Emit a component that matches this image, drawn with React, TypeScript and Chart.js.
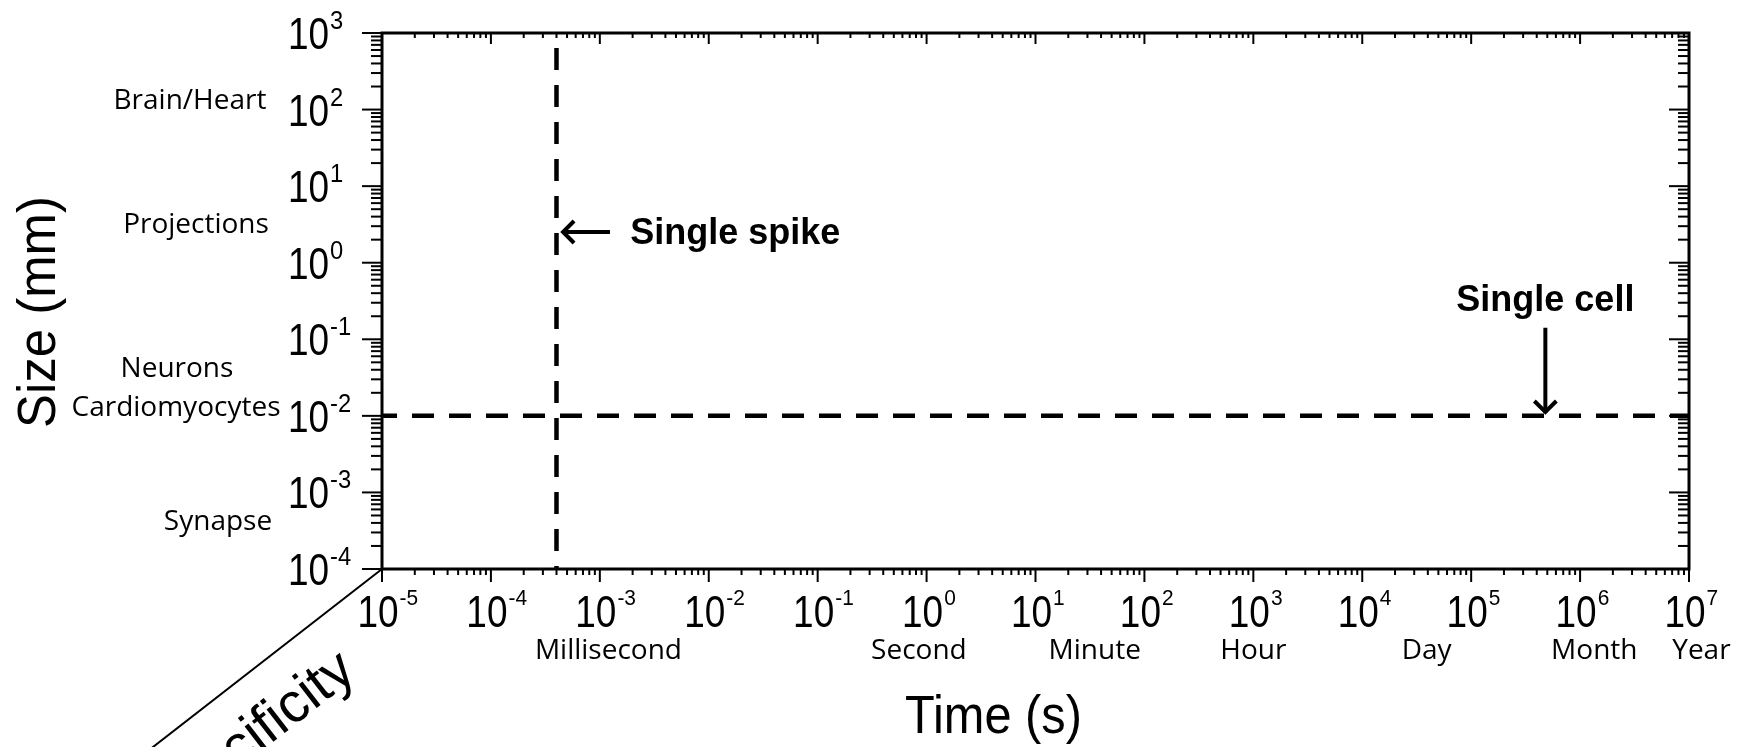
import { useEffect, useRef } from "react";
import { Chart, registerables } from "chart.js";

Chart.register(...registerables);

// ---------- data ----------
const xDecades = [-5, -4, -3, -2, -1, 0, 1, 2, 3, 4, 5, 6, 7]; // Time (s) = 10^n
const yDecades = [-4, -3, -2, -1, 0, 1, 2, 3]; // Size (mm) = 10^n
const timeUnits = ["Millisecond", "Second", "Minute", "Hour", "Day", "Month", "Year"];
const timeUnitAt = [1.2e-3, 0.85, 35, 1.0e3, 3.9e4, 1.35e6, 1.3e7];
const sizeCategories = ["Brain/Heart", "Projections", "Neurons", "Cardiomyocytes", "Synapse"];
const sizeCategoryAt = [137, 3.3, 0.043, 0.0135, 4.4e-4];
const spikeTime = 4e-4; // s  (vertical dashed line)
const cellSize = 1e-2; // mm (horizontal dashed line)
const spikeArrowX = [1.24e-3, 4.5e-4];
const spikeArrowY = 2.52;
const cellArrowX = 4.8e5;
const cellArrowY = [0.141, 0.0109];
const spikeLabel = "Single spike";
const spikeLabelAt = { x: 1.9e-3, y: 2.52 };
const cellLabel = "Single cell";
const cellLabelAt = { x: 4.8e5, y: 0.347 };
const xTitle = "Time (s)";
const yTitle = "Size (mm)";
const zTitle = "Specificity";

// ---------- layout / style ----------
const W = 1746;
const H = 747;
const NUM_FONT = '"Liberation Sans", Arial, sans-serif';
const LBL_FONT = '"Open Sans", sans-serif';
const sizeLabelCenterX = [190, 196, 177, 176, 218];

function drawText(
  ctx: CanvasRenderingContext2D,
  text: string,
  x: number,
  y: number,
  font: string,
  sx: number,
  align: "left" | "center" | "right"
) {
  ctx.save();
  ctx.font = font;
  const w = ctx.measureText(text).width * sx;
  const left = align === "center" ? x - w / 2 : align === "right" ? x - w : x;
  ctx.translate(left, y);
  ctx.scale(sx, 1);
  ctx.textAlign = "left";
  ctx.textBaseline = "alphabetic";
  ctx.fillText(text, 0, 0);
  ctx.restore();
  return w;
}

function measure(ctx: CanvasRenderingContext2D, text: string, font: string, sx: number) {
  ctx.save();
  ctx.font = font;
  const w = ctx.measureText(text).width * sx;
  ctx.restore();
  return w;
}

const axesPlugin = {
  id: "customAxes",
  afterDraw(chart: any) {
    const { ctx, chartArea: a, scales } = chart;
    const xs = scales.x;
    const ys = scales.y;
    ctx.save();
    ctx.strokeStyle = "#000";
    ctx.fillStyle = "#000";
    ctx.lineCap = "butt";
    const seg = (x1: number, y1: number, x2: number, y2: number) => {
      ctx.beginPath();
      ctx.moveTo(x1, y1);
      ctx.lineTo(x2, y2);
      ctx.stroke();
    };

    // ticks
    ctx.lineWidth = 2;
    xDecades.forEach((n, i) => {
      const p = xs.getPixelForValue(Math.pow(10, n));
      seg(p, a.bottom, p, a.bottom + 13);
      seg(p, a.top, p, a.top + 11);
      if (i < xDecades.length - 1) {
        for (let k = 2; k <= 9; k++) {
          const q = xs.getPixelForValue(k * Math.pow(10, n));
          seg(q, a.bottom, q, a.bottom + 6);
          seg(q, a.top, q, a.top + 5);
        }
      }
    });
    yDecades.forEach((n, i) => {
      const p = ys.getPixelForValue(Math.pow(10, n));
      seg(a.left, p, a.left - 20, p);
      seg(a.right, p, a.right - 20, p);
      if (i < yDecades.length - 1) {
        for (let k = 2; k <= 9; k++) {
          const q = ys.getPixelForValue(k * Math.pow(10, n));
          seg(a.left, q, a.left - 11, q);
          seg(a.right, q, a.right - 11, q);
        }
      }
    });

    // frame
    ctx.lineWidth = 3;
    ctx.strokeRect(a.left, a.top, a.right - a.left, a.bottom - a.top);

    // diagonal (third axis)
    ctx.lineWidth = 2;
    seg(a.left, a.bottom, a.left - 229 * 1.3, a.bottom + 178 * 1.3);

    // x tick labels
    const mainFont = `44px ${NUM_FONT}`;
    const mainSx = 0.84;
    xDecades.forEach((n) => {
      const p = xs.getPixelForValue(Math.pow(10, n));
      const w10 = measure(ctx, "10", mainFont, mainSx);
      const left = p - 4 - w10 / 2;
      const base = a.bottom + 58;
      drawText(ctx, "10", left, base, mainFont, mainSx, "left");
      drawText(ctx, String(n), left + w10 + 1, base - 22, `22px ${NUM_FONT}`, 0.95, "left");
    });
    // y tick labels
    yDecades.forEach((n) => {
      const p = ys.getPixelForValue(Math.pow(10, n));
      const left = a.left - 94;
      const base = p + 16;
      const w10 = drawText(ctx, "10", left, base, mainFont, mainSx, "left");
      drawText(ctx, String(n), left + w10 + 1, base - 20, `25px ${NUM_FONT}`, 0.95, "left");
    });

    // time unit labels
    timeUnits.forEach((t, i) => {
      const p = xs.getPixelForValue(timeUnitAt[i]);
      drawText(ctx, t, p, a.bottom + 90, `28px ${LBL_FONT}`, 1, "center");
    });
    // size category labels
    sizeCategories.forEach((t, i) => {
      const p = ys.getPixelForValue(sizeCategoryAt[i]);
      drawText(ctx, t, sizeLabelCenterX[i], p + 10, `28px ${LBL_FONT}`, 1, "center");
    });

    // axis titles
    drawText(ctx, xTitle, (a.left + a.right) / 2 - 42, H - 14, `53px ${NUM_FONT}`, 0.92, "center");
    ctx.save();
    ctx.translate(55, (a.top + a.bottom) / 2 + 11);
    ctx.rotate(-Math.PI / 2);
    drawText(ctx, yTitle, 0, 0, `53px ${NUM_FONT}`, 0.96, "center");
    ctx.restore();
    ctx.save();
    ctx.translate(a.left - 24, a.bottom + 107);
    ctx.rotate(-Math.atan2(178, 229));
    drawText(ctx, zTitle, 0, 0, `56px ${NUM_FONT}`, 1, "right");
    ctx.restore();

    // annotations
    drawText(
      ctx,
      spikeLabel,
      xs.getPixelForValue(spikeLabelAt.x),
      ys.getPixelForValue(spikeLabelAt.y) + 12,
      `bold 36px ${NUM_FONT}`,
      1,
      "left"
    );
    drawText(
      ctx,
      cellLabel,
      xs.getPixelForValue(cellLabelAt.x),
      ys.getPixelForValue(cellLabelAt.y) + 13,
      `bold 36px ${NUM_FONT}`,
      1,
      "center"
    );

    // arrowheads
    ctx.lineWidth = 4;
    ctx.lineJoin = "miter";
    const tipS = { x: xs.getPixelForValue(spikeArrowX[1]), y: ys.getPixelForValue(spikeArrowY) };
    ctx.beginPath();
    ctx.moveTo(tipS.x + 12, tipS.y - 11);
    ctx.lineTo(tipS.x + 1, tipS.y);
    ctx.lineTo(tipS.x + 12, tipS.y + 11);
    ctx.stroke();
    const tipC = { x: xs.getPixelForValue(cellArrowX), y: ys.getPixelForValue(cellArrowY[1]) };
    ctx.beginPath();
    ctx.moveTo(tipC.x - 11, tipC.y - 12);
    ctx.lineTo(tipC.x, tipC.y - 1);
    ctx.lineTo(tipC.x + 11, tipC.y - 12);
    ctx.stroke();

    ctx.restore();
  },
};

export default function App() {
  const ref = useRef<HTMLCanvasElement | null>(null);
  useEffect(() => {
    document.body.style.margin = "0";
    const canvas = ref.current;
    if (!canvas) return;
    const chart = new Chart(canvas, {
      type: "scatter",
      data: {
        datasets: [
          {
            label: "Single cell",
            data: [
              { x: Math.pow(10, xDecades[0]), y: cellSize },
              { x: Math.pow(10, xDecades[xDecades.length - 1]), y: cellSize },
            ],
            showLine: true,
            borderColor: "#000",
            borderWidth: 4.5,
            borderDash: [22, 15],
            borderDashOffset: 7,
            pointRadius: 0,
          },
          {
            label: "Single spike",
            data: [
              { x: spikeTime, y: Math.pow(10, yDecades[yDecades.length - 1]) },
              { x: spikeTime, y: Math.pow(10, yDecades[0]) },
            ],
            showLine: true,
            borderColor: "#000",
            borderWidth: 4.5,
            borderDash: [22, 15],
            borderDashOffset: 22,
            pointRadius: 0,
          },
          {
            label: "spike arrow",
            data: [
              { x: spikeArrowX[0], y: spikeArrowY },
              { x: spikeArrowX[1], y: spikeArrowY },
            ],
            showLine: true,
            borderColor: "#000",
            borderWidth: 4,
            pointRadius: 0,
          },
          {
            label: "cell arrow",
            data: [
              { x: cellArrowX, y: cellArrowY[0] },
              { x: cellArrowX, y: cellArrowY[1] },
            ],
            showLine: true,
            borderColor: "#000",
            borderWidth: 4,
            pointRadius: 0,
          },
        ],
      },
      options: {
        animation: false,
        responsive: false,
        devicePixelRatio: 1,
        layout: { padding: { left: 382, right: W - 1689, top: 33, bottom: H - 569 } },
        plugins: { legend: { display: false }, tooltip: { enabled: false } },
        scales: {
          x: { type: "logarithmic", display: false, min: Math.pow(10, xDecades[0]), max: Math.pow(10, xDecades[xDecades.length - 1]) },
          y: { type: "logarithmic", display: false, min: Math.pow(10, yDecades[0]), max: Math.pow(10, yDecades[yDecades.length - 1]) },
        },
      },
      plugins: [axesPlugin],
    });
    return () => chart.destroy();
  }, []);
  return (
    <div style={{ width: W, height: H, background: "#fff" }}>
      <canvas ref={ref} width={W} height={H} style={{ display: "block" }} />
    </div>
  );
}
